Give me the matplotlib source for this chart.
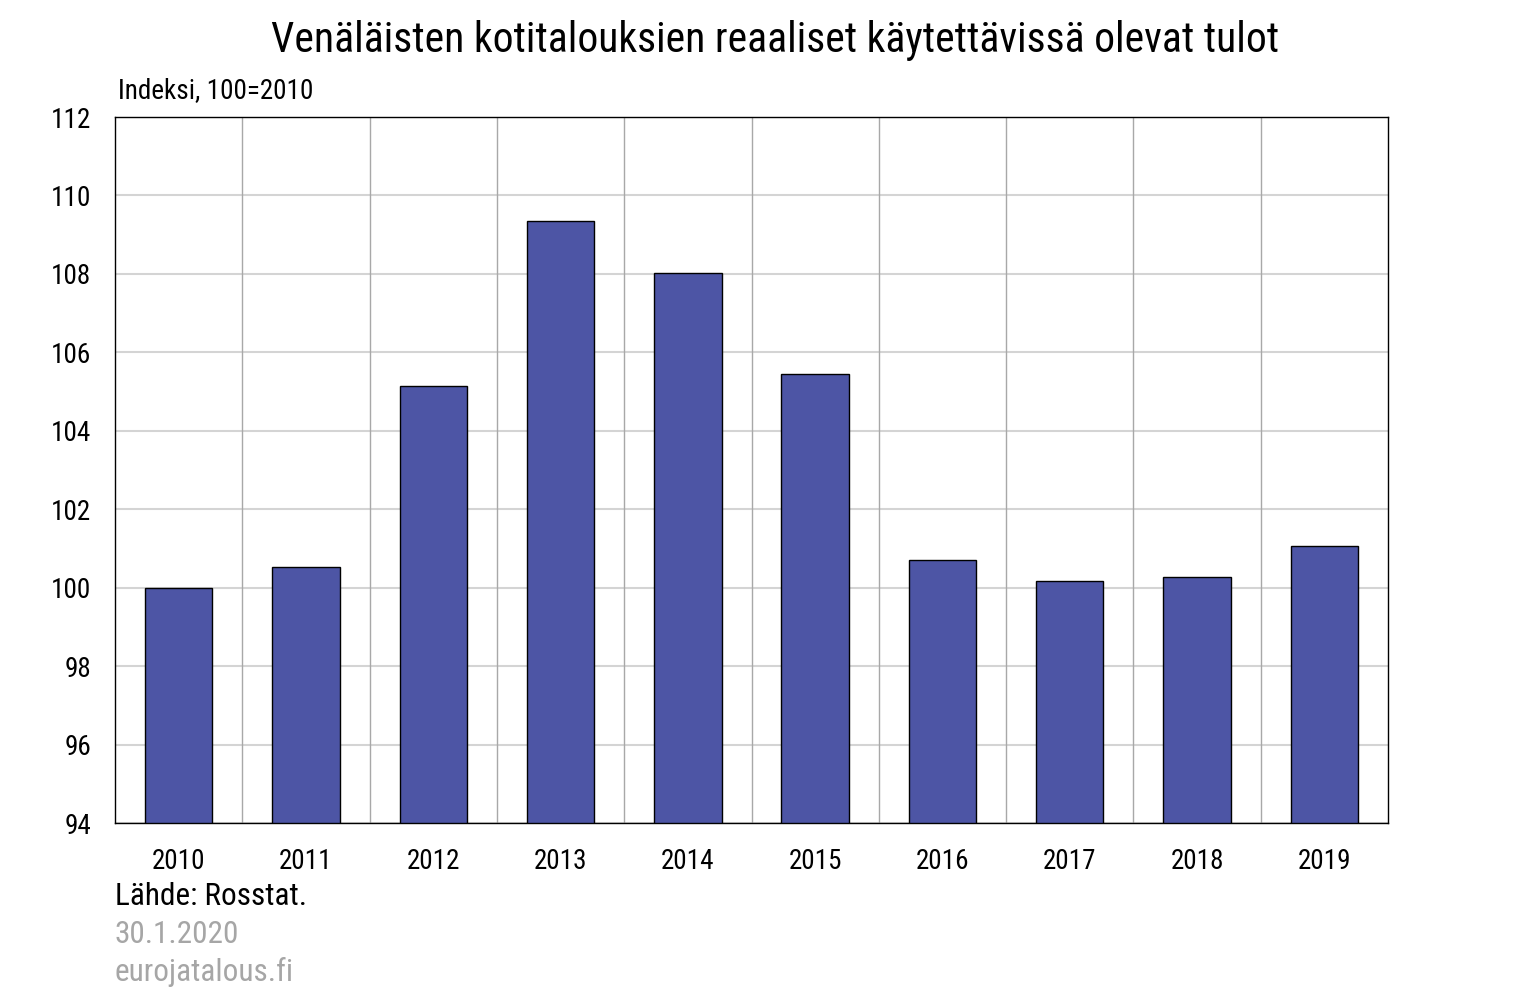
import numpy as np
import matplotlib
matplotlib.use("Agg")
import matplotlib.pyplot as plt

plt.rcParams['font.family'] = ['Roboto Condensed', 'Liberation Sans', 'DejaVu Sans']

# Data
years = ['2010', '2011', '2012', '2013', '2014', '2015', '2016', '2017', '2018', '2019']
index_values = [100.0, 100.52, 105.13, 109.35, 108.02, 105.45, 100.71, 100.17, 100.26, 101.07]
y_ticks = [94, 96, 98, 100, 102, 104, 106, 108, 110, 112]

fig = plt.figure(figsize=(15.26, 9.99), dpi=100)
ax = fig.add_axes([115/1526, 1 - 823/999, (1388 - 115)/1526, (823 - 117)/999])

x = np.arange(len(years))
ax.bar(x, index_values, width=0.53, bottom=0, color='#4D55A5',
       edgecolor='black', linewidth=1.0, zorder=3)

ax.set_xlim(-0.5, len(years) - 0.5)
ax.set_ylim(94, 112)
ax.set_yticks(y_ticks)
ax.set_yticklabels([str(t) for t in y_ticks], fontsize=19.5)
ax.set_xticks(x)
ax.set_xticklabels(years, fontsize=19.5)
ax.tick_params(axis='both', length=0)
ax.tick_params(axis='y', pad=17)
ax.tick_params(axis='x', pad=18)

# gridlines: horizontal at ticks, vertical between categories
for t in y_ticks:
    ax.axhline(t, color='#d4d4d4', linewidth=1.5, zorder=1)
for b in np.arange(0.5, len(years) - 0.5, 1):
    ax.axvline(b, color='#a8a8a8', linewidth=1.0, zorder=1)

for s in ax.spines.values():
    s.set_color('black')
    s.set_linewidth(1.0)
    s.set_zorder(4)

fig.text(775/1526, 1 - 52/999, 'Venäläisten kotitalouksien reaaliset käytettävissä olevat tulot',
         ha='center', va='baseline', fontsize=30)
fig.text(118/1526, 1 - 98/999, 'Indeksi, 100=2010', ha='left', va='baseline', fontsize=19.5)

fig.text(115/1526, 1 - 905/999, 'Lähde: Rosstat.', ha='left', va='baseline', fontsize=22.5)
fig.text(115/1526, 1 - 943/999, '30.1.2020', ha='left', va='baseline', fontsize=22.5, color='#a6a6a6')
fig.text(115/1526, 1 - 981/999, 'eurojatalous.fi', ha='left', va='baseline', fontsize=22.5, color='#a6a6a6')

fig.savefig('out.png', dpi=100, facecolor='white')
